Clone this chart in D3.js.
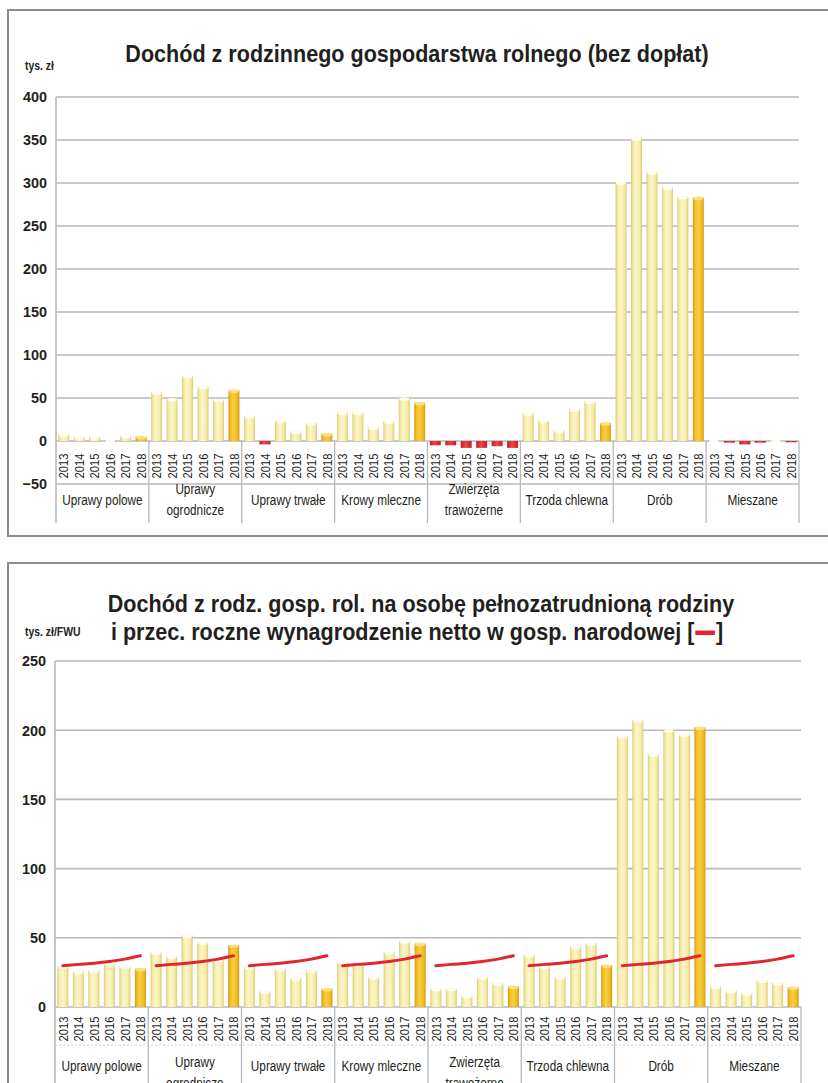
<!DOCTYPE html>
<html>
<head>
<meta charset="utf-8">
<script src="https://cdn.jsdelivr.net/npm/d3@7/dist/d3.min.js"></script>
<style>
  html, body { margin: 0; padding: 0; background: #fff; }
  svg { display: block; }
  text { font-family: "Liberation Sans", Arial, sans-serif; fill: #231f20; }
</style>
</head>
<body>
<svg id="chart" width="828" height="1083"></svg>
<script>
// Farm types (FADN classification) and accounting years
const farmTypes = ["Uprawy polowe", "Uprawy\nogrodnicze", "Uprawy trwałe", "Krowy mleczne",
                   "Zwierzęta\ntrawożerne", "Trzoda chlewna", "Drób", "Mieszane"];
const years = ["2013", "2014", "2015", "2016", "2017", "2018"];

// Family farm income excluding subsidies, thousand PLN (one row per farm type, 2013–2018)
const incomeUprawyPolowe   = [8, 5, 5, 1, 6, 5];
const incomeOgrodnicze     = [57, 49, 76, 63, 48, 59];
const incomeTrwale         = [29, -4, 24, 11, 21, 8.5];
const incomeKrowy          = [33, 33, 16, 23, 50, 44.5];
const incomeTrawozerne     = [-5, -5, -8, -8, -6, -8];
const incomeTrzoda         = [32.5, 24, 12.5, 37, 46, 21];
const incomeDrob           = [301, 352, 313, 295, 284, 283];
const incomeMieszane       = [0.5, -2, -4, -2, 0.5, -1.5];

// Family farm income per family work unit, thousand PLN/FWU
const fwuUprawyPolowe = [29.4, 25.8, 26.5, 31.3, 29.4, 27.7];
const fwuOgrodnicze   = [39.5, 36.6, 51.8, 46.7, 34.2, 44.6];
const fwuTrwale       = [28.9, 11.3, 27.7, 21, 26.5, 13.2];
const fwuKrowy        = [32.5, 31.3, 21.7, 39.7, 47.5, 45.8];
const fwuTrawozerne   = [13.2, 13.2, 8.2, 21.7, 17.3, 14.9];
const fwuTrzoda       = [37.8, 29.4, 21.7, 43.8, 46.2, 30.1];
const fwuDrob         = [195.8, 207.4, 182.6, 200.1, 197, 202];
const fwuMieszane     = [14.9, 11.8, 10.1, 19.3, 17.3, 14.2];

// Average annual net wage in the national economy, thousand PLN
const netWage = [29.8, 30.8, 31.6, 32.8, 34.6, 37.0];

const incomeTicks = [-50, 0, 50, 100, 150, 200, 250, 300, 350, 400];
const fwuTicks = [0, 50, 100, 150, 200, 250];

const incomeSeries = [incomeUprawyPolowe, incomeOgrodnicze, incomeTrwale, incomeKrowy,
                      incomeTrawozerne, incomeTrzoda, incomeDrob, incomeMieszane];
const fwuSeries = [fwuUprawyPolowe, fwuOgrodnicze, fwuTrwale, fwuKrowy,
                   fwuTrawozerne, fwuTrzoda, fwuDrob, fwuMieszane];

const WAGE_RED = "#e3262d";

const svg = d3.select("#chart");
const defs = svg.append("defs");

// Narrow the glyphs of a text element to imitate a condensed typeface
function condense(sel, factor) {
  sel.each(function () {
    const len = this.getComputedTextLength();
    d3.select(this).attr("textLength", (len * factor).toFixed(2))
      .attr("lengthAdjust", "spacingAndGlyphs");
  });
}

// Cylinder-like horizontal gradients for the bars
function cylGradient(id, edge, mid, light) {
  const g = defs.append("linearGradient").attr("id", id)
    .attr("x1", "0%").attr("x2", "100%").attr("y1", "0%").attr("y2", "0%");
  g.append("stop").attr("offset", "0%").attr("stop-color", edge);
  g.append("stop").attr("offset", "18%").attr("stop-color", mid);
  g.append("stop").attr("offset", "45%").attr("stop-color", light);
  g.append("stop").attr("offset", "80%").attr("stop-color", mid);
  g.append("stop").attr("offset", "100%").attr("stop-color", edge);
}
cylGradient("gPale", "#dcc877", "#f6eba3", "#fcf6cd");
cylGradient("gGold", "#d49b0c", "#f1bb22", "#f7cf45");
cylGradient("gRed", "#c01d24", "#dc2a30", "#e8484c");

function drawPanel(cfg) {
  const g = svg.append("g");

  // panel frame (open to the right)
  g.append("path")
    .attr("d", `M${cfg.frame.right},${cfg.frame.top} H${cfg.frame.left} V${cfg.frame.bottom} H${cfg.frame.right}`)
    .attr("fill", "none").attr("stroke", "#8c8c8c").attr("stroke-width", 2);

  const y = d3.scaleLinear().domain(cfg.domain).range([cfg.yBottom, cfg.yTop]);
  const x0 = d3.scaleBand().domain(farmTypes).range([cfg.left, cfg.right]);
  const x1 = d3.scaleBand().domain(years).range([0, x0.bandwidth()])
    .paddingInner(0.29).paddingOuter(0.15);

  // horizontal gridlines
  g.append("g").selectAll("line").data(cfg.ticks).join("line")
    .attr("x1", cfg.left).attr("x2", cfg.right)
    .attr("y1", d => y(d)).attr("y2", d => y(d))
    .attr("stroke", "#b9b9bb").attr("stroke-width", 1.6);

  // value axis
  const yAxis = d3.axisLeft(y).tickValues(cfg.ticks).tickSize(0).tickPadding(9);
  const ya = g.append("g").attr("transform", `translate(${cfg.left},0)`).call(yAxis);
  ya.select(".domain").remove();
  ya.selectAll("text")
    .style("font-family", "'Liberation Sans', Arial, sans-serif")
    .style("font-weight", "bold").style("font-size", "15px").attr("fill", "#231f20");
  condense(ya.selectAll("text"), 0.96);

  g.append("line")
    .attr("x1", cfg.left).attr("x2", cfg.left)
    .attr("y1", cfg.yTop).attr("y2", cfg.sepBottom)
    .attr("stroke", "#b9b9bb").attr("stroke-width", 1.6);

  // category separators below the zero line
  const bounds = farmTypes.map(d => x0(d)).concat([cfg.right]);
  g.append("g").selectAll("line").data(bounds.slice(1)).join("line")
    .attr("x1", d => d).attr("x2", d => d)
    .attr("y1", y(0)).attr("y2", cfg.sepBottom)
    .attr("stroke", "#b9b9bb").attr("stroke-width", 1.3);

  if (cfg.dashY) {
    g.append("line")
      .attr("x1", cfg.left).attr("x2", cfg.right)
      .attr("y1", cfg.dashY).attr("y2", cfg.dashY)
      .attr("stroke", "#cfcfcf").attr("stroke-width", 1).attr("stroke-dasharray", "2,2");
  }

  // bars
  const groups = g.append("g").selectAll("g").data(farmTypes).join("g")
    .attr("transform", d => `translate(${x0(d)},0)`);

  const cells = groups.selectAll("g").data((d, i) =>
    years.map((yr, j) => ({ year: yr, value: cfg.series[i][j] }))).join("g");

  const bw = x1.bandwidth();
  cells.append("rect")
    .attr("x", d => x1(d.year))
    .attr("width", bw)
    .attr("y", d => Math.min(y(d.value), y(0)))
    .attr("height", d => Math.abs(y(d.value) - y(0)))
    .attr("fill", d => d.value < 0 ? "url(#gRed)" : (d.year === "2018" ? "url(#gGold)" : "url(#gPale)"));

  // rounded highlight on the top of each bar
  cells.filter(d => d.value > 0).append("ellipse")
    .attr("cx", d => x1(d.year) + bw / 2)
    .attr("cy", d => y(d.value) + 1)
    .attr("rx", bw / 2 - 0.5).attr("ry", 1.8)
    .attr("fill", d => d.year === "2018" ? "#fbe07a" : "#fffdf0");

  // year labels
  const yl = groups.selectAll("text.yr").data(years).join("text")
    .attr("class", "yr")
    .attr("transform", d => `translate(${x1(d) + bw / 2},${cfg.yearY}) rotate(-90)`)
    .attr("text-anchor", "middle").attr("dy", "0.36em")
    .style("font-size", "13px")
    .text(d => d);
  condense(yl, 0.86);

  // farm type labels, one text element per line
  groups.each(function (d) {
    const lines = d.split("\n");
    lines.forEach((ln, k) => {
      const t = d3.select(this).append("text")
        .attr("text-anchor", "middle")
        .attr("x", x0.bandwidth() / 2)
        .attr("y", lines.length === 1 ? cfg.labelY : cfg.label2Y + k * 21)
        .style("font-size", "14px")
        .text(ln);
      condense(t, 0.84);
    });
  });

  if (cfg.line) {
    const line = d3.line()
      .x((v, j) => x1(years[j]) + bw / 2)
      .y(v => y(v))
      .curve(d3.curveMonotoneX);
    groups.append("path")
      .attr("d", line(cfg.line))
      .attr("fill", "none").attr("stroke", WAGE_RED)
      .attr("stroke-width", 3).attr("stroke-linecap", "round");
  }

  // unit label
  const u = g.append("text").attr("x", 25).attr("y", cfg.unitY)
    .style("font-weight", "bold").style("font-size", "13px")
    .text(cfg.unit);
  condense(u, 0.8);

  // title, one text element per line
  cfg.title.forEach((ln, k) => {
    const t = g.append("text").attr("text-anchor", "middle")
      .attr("x", cfg.titleX[k]).attr("y", cfg.titleY + k * 28)
      .style("font-weight", "bold").style("font-size", "24.5px")
      .text(ln);
    condense(t, 0.88);

    // a red line swatch placed in the em-space gap between the brackets
    const gap = ln.indexOf("\u2003");
    if (gap >= 0) {
      const box = t.node().getExtentOfChar(gap);
      g.append("rect")
        .attr("x", box.x + 1).attr("width", box.width - 2)
        .attr("y", cfg.titleY + k * 28 - 9.5).attr("height", 4.5)
        .attr("fill", WAGE_RED);
    }
  });
}

drawPanel({
  frame: { left: 8, top: 10, right: 832, bottom: 536 },
  left: 56, right: 799, yTop: 97, yBottom: 484,
  domain: [-50, 400], ticks: incomeTicks,
  series: incomeSeries,
  sepBottom: 523, yearY: 466, labelY: 505, label2Y: 494,
  unit: "tys. zł", unitY: 70,
  title: ["Dochód z rodzinnego gospodarstwa rolnego (bez dopłat)"],
  titleX: [417], titleY: 62
});

drawPanel({
  frame: { left: 8, top: 563, right: 832, bottom: 1120 },
  left: 55, right: 801, yTop: 661, yBottom: 1007,
  domain: [0, 250], ticks: fwuTicks,
  series: fwuSeries,
  sepBottom: 1090, yearY: 1029, labelY: 1071, label2Y: 1067, dashY: 1045,
  line: netWage,
  unit: "tys. zł/FWU", unitY: 636,
  title: ["Dochód z rodz. gosp. rol. na osobę pełnozatrudnioną rodziny",
          "i przec. roczne wynagrodzenie netto w gosp. narodowej [\u2003]"],
  titleX: [421, 417], titleY: 612
});
</script>
</body>
</html>
